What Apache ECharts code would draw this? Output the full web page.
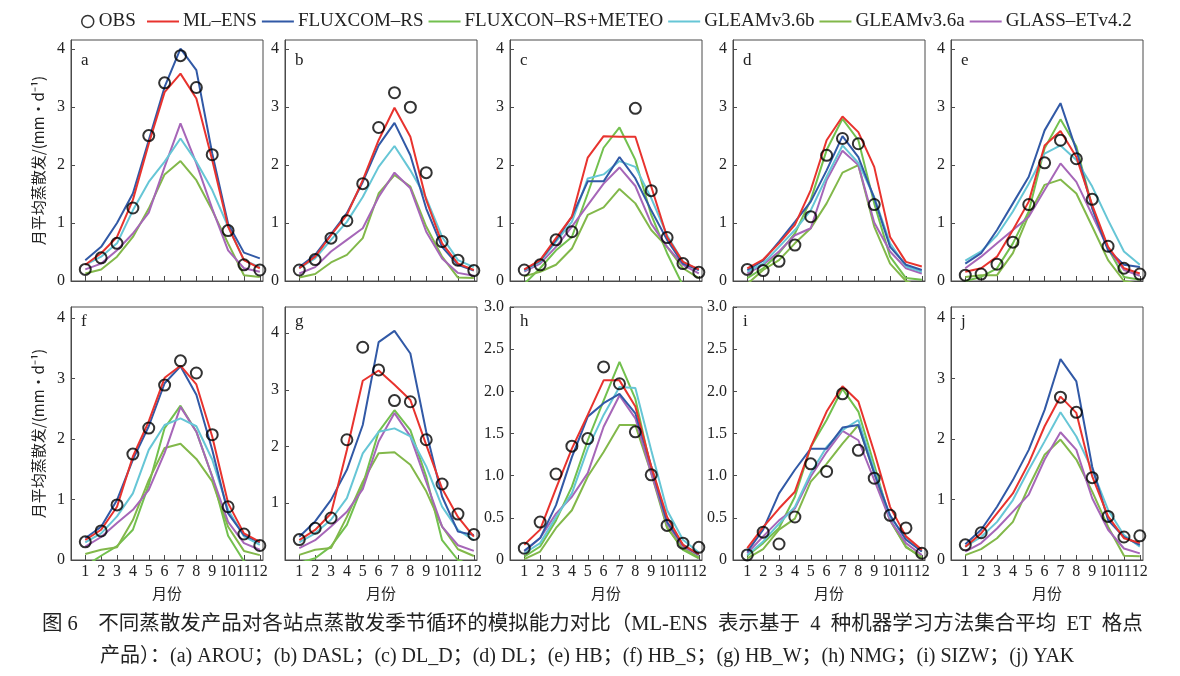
<!DOCTYPE html>
<html><head><meta charset="utf-8">
<script src="https://cdn.jsdelivr.net/npm/echarts@6/dist/echarts.min.js"></script>
<style>html,body{margin:0;padding:0;background:#fff}#c{width:1180px;height:676px}</style>
</head><body><div id="c"></div><script>
// ---------- DATA ----------
const months = [1,2,3,4,5,6,7,8,9,10,11,12];
const panelLetters = ['a','b','c','d','e','f','g','h','i','j'];
const seriesNames = ['OBS','ML–ENS','FLUXCOM–RS','FLUXCON–RS+METEO','GLEAMv3.6b','GLEAMv3.6a','GLASS–ETv4.2'];
const yTickLabels = [[0,1,2,3,4],[0,1,2,3,4],[0,1,2,3,4],[0,1,2,3,4],[0,1,2,3,4],
                     [0,1,2,3,4],[1,2,3,4],[0,0.5,1,1.5,2,2.5,3],[0,0.5,1,1.5,2,2.5,3],[0,1,2,3,4]];

const OBS = [
 [0.20,0.40,0.65,1.26,2.51,3.42,3.89,3.34,2.18,0.87,0.28,0.19],
 [0.19,0.37,0.74,1.04,1.68,2.65,3.25,3.00,1.87,0.68,0.36,0.18],
 [0.19,0.28,0.71,0.85,null,null,null,2.98,1.56,0.75,0.30,0.15],
 [0.20,0.18,0.34,0.62,1.11,2.17,2.46,2.37,1.32,null,null,null],
 [0.10,0.12,0.29,0.67,1.32,2.04,2.43,2.11,1.41,0.60,0.22,0.12],
 [0.30,0.48,0.91,1.75,2.18,2.89,3.29,3.09,2.07,0.88,0.43,0.24],
 [0.36,0.56,0.74,2.12,3.75,3.35,2.81,2.79,2.12,1.34,0.81,0.45],
 [0.14,0.45,1.02,1.35,1.44,2.29,2.09,1.52,1.01,0.41,0.20,0.15],
 [0.06,0.33,0.19,0.51,1.14,1.05,1.97,1.30,0.97,0.53,0.38,0.08],
 [0.25,0.45,null,null,null,null,2.69,2.44,1.36,0.72,0.38,0.40]
];
const ML_ENS = [
 [0.28,0.48,0.76,1.40,2.37,3.26,3.58,3.15,2.09,0.94,0.36,0.22],
 [0.22,0.42,0.79,1.14,1.74,2.43,2.99,2.49,1.40,0.65,0.30,0.19],
 [0.20,0.36,0.74,1.11,2.13,2.50,2.49,2.49,1.63,0.76,0.33,0.20],
 [0.22,0.37,0.65,0.97,1.57,2.43,2.84,2.57,1.97,0.76,0.33,0.25],
 [0.16,0.22,0.42,0.88,1.37,2.34,2.59,2.14,1.31,0.59,0.22,0.13],
 [0.33,0.50,0.88,1.71,2.29,3.01,3.21,2.90,2.04,0.94,0.44,0.30],
 [0.35,0.53,0.82,1.94,3.16,3.34,3.09,2.82,2.03,1.26,0.76,0.41],
 [0.18,0.36,0.85,1.32,1.72,2.13,2.13,1.82,1.11,0.51,0.18,0.07],
 [0.14,0.39,0.61,0.81,1.34,1.76,2.06,1.88,1.28,0.63,0.28,0.12],
 [0.22,0.44,0.77,1.10,1.60,2.21,2.70,2.43,1.38,0.72,0.36,0.28]
];
const FLUXCOM_RS = [
 [0.36,0.59,1.00,1.51,2.43,3.35,4.01,3.64,2.20,0.99,0.49,0.39],
 [0.24,0.45,0.81,1.17,1.71,2.34,2.73,2.17,1.25,0.59,0.28,0.18],
 [0.19,0.35,0.71,1.11,1.72,1.72,2.14,1.77,1.22,0.71,0.30,0.19],
 [0.19,0.35,0.68,1.02,1.37,1.91,2.50,2.14,1.43,0.59,0.28,0.19],
 [0.30,0.48,0.88,1.34,1.80,2.60,3.07,2.26,1.25,0.53,0.28,0.24],
 [0.36,0.55,0.99,1.66,2.21,2.92,3.20,2.73,1.82,0.77,0.41,0.29],
 [0.41,0.68,1.06,1.59,2.38,3.84,4.04,3.64,2.26,1.12,0.50,0.44],
 [0.11,0.26,0.65,1.22,1.70,1.86,1.97,1.74,1.11,0.45,0.18,0.06],
 [0.10,0.36,0.79,1.07,1.32,1.32,1.57,1.60,1.03,0.53,0.24,0.10],
 [0.26,0.50,0.88,1.32,1.82,2.48,3.32,2.95,1.54,0.66,0.38,0.25]
];
const FLUXCON_RS_METEO = [
 null,
 null,
 [-0.05,0.22,0.53,0.76,1.51,2.30,2.65,2.09,1.14,0.48,-0.08,-0.15],
 [0.05,0.22,0.48,0.82,1.40,2.26,2.80,2.43,1.34,0.42,0.05,0.02],
 [0.00,0.07,0.22,0.65,1.20,2.29,2.79,2.32,1.28,0.56,0.07,0.02],
 [-0.10,0.07,0.23,0.50,1.24,2.18,2.55,2.12,1.38,0.40,-0.02,-0.10],
 [-0.05,0.03,0.24,0.62,1.32,2.26,2.64,2.29,1.47,0.35,0.00,-0.10],
 [0.04,0.16,0.47,0.87,1.42,1.89,2.35,1.91,1.07,0.39,0.12,0.02],
 [0.05,0.20,0.38,0.75,1.34,1.66,2.03,1.76,1.13,0.47,0.16,0.02],
 null
];
const GLEAM_36b = [
 [0.28,0.42,0.65,1.22,1.71,2.06,2.46,2.06,1.57,0.94,0.36,0.24],
 [0.22,0.39,0.71,1.02,1.45,1.97,2.33,1.91,1.43,0.76,0.36,0.24],
 [0.18,0.33,0.68,1.02,1.77,1.84,2.07,1.97,1.43,0.79,0.33,0.19],
 [0.16,0.30,0.59,0.88,1.22,1.80,2.34,2.04,1.45,0.65,0.25,0.16],
 [0.35,0.51,0.79,1.20,1.68,2.20,2.34,2.09,1.63,1.05,0.51,0.28],
 [0.29,0.44,0.72,1.10,1.82,2.23,2.34,2.21,1.66,0.83,0.39,0.25],
 [0.31,0.47,0.71,1.09,1.88,2.26,2.32,2.18,1.65,0.94,0.53,0.35],
 [0.08,0.20,0.51,0.79,1.32,1.72,2.05,2.04,1.30,0.59,0.24,0.09],
 [0.06,0.22,0.43,0.63,1.03,1.34,1.54,1.66,1.07,0.51,0.26,0.10],
 [0.22,0.38,0.63,0.99,1.49,1.96,2.44,2.04,1.49,0.83,0.41,0.22]
];
const GLEAM_36a = [
 [0.13,0.20,0.42,0.76,1.25,1.84,2.07,1.74,1.22,0.65,0.10,0.07],
 [0.06,0.12,0.32,0.45,0.74,1.51,1.83,1.63,0.94,0.42,0.06,0.05],
 [0.08,0.16,0.28,0.56,1.14,1.27,1.59,1.34,0.88,0.59,0.22,0.05],
 [-0.05,0.19,0.36,0.65,0.91,1.34,1.87,2.00,0.94,0.30,0.00,-0.10],
 [0.07,0.10,0.10,0.48,1.14,1.66,1.75,1.51,0.94,0.36,0.00,-0.05],
 [0.10,0.17,0.21,0.66,1.32,1.85,1.92,1.67,1.30,0.55,0.15,0.08],
 [0.09,0.18,0.21,0.76,1.38,1.88,1.90,1.68,1.21,0.59,0.19,0.07],
 [0.01,0.10,0.38,0.59,0.99,1.28,1.60,1.60,1.03,0.38,0.14,0.03],
 [0.02,0.13,0.36,0.49,0.93,1.14,1.38,1.60,1.03,0.47,0.15,0.04],
 [0.08,0.18,0.36,0.63,1.21,1.74,1.99,1.66,1.13,0.55,0.07,0.06]
];
const GLASS_ET = [
 [0.20,0.30,0.53,0.82,1.18,1.97,2.72,2.03,1.25,0.53,0.22,0.16],
 [0.13,0.24,0.51,0.71,0.91,1.45,1.87,1.60,0.85,0.39,0.14,0.09],
 [0.16,0.30,0.59,0.94,1.31,1.68,1.96,1.64,0.99,0.59,0.28,0.13],
 [0.13,0.28,0.51,0.79,0.91,1.74,2.25,2.00,1.01,0.51,0.22,0.13],
 [0.22,0.42,0.65,0.88,1.11,1.57,2.03,1.71,1.14,0.56,0.19,0.09],
 [0.22,0.38,0.61,0.83,1.16,1.77,2.53,2.12,1.38,0.63,0.28,0.17],
 [0.21,0.35,0.59,0.85,1.25,2.09,2.59,2.18,1.38,0.59,0.26,0.16],
 [0.10,0.26,0.55,0.75,1.03,1.58,1.95,1.68,1.03,0.43,0.16,0.06],
 [0.08,0.28,0.47,0.61,0.99,1.28,1.53,1.42,0.95,0.47,0.20,0.06],
 [0.14,0.28,0.52,0.80,1.08,1.66,2.11,1.82,1.02,0.50,0.19,0.11]
];
const yMaxes = [4.16,4.16,4.16,4.16,4.16,4.18,4.46,3.0,3.0,4.18];

// ---------- LAYOUT / STYLE ----------
const lefts = [71,285,510,733,951];
const W = 192;
const rows = [{top:40,h:241},{top:307,h:253}];
const SERIF = '"Liberation Serif","DejaVu Serif",serif';
const CJK = '"Noto Sans CJK SC","Liberation Serif",sans-serif';
const CAP = '"Liberation Serif","Noto Sans CJK SC",serif';
const lineStyles = [
  {key:'FLUXCON–RS+METEO', data:FLUXCON_RS_METEO, color:'#72c04e'},
  {key:'GLEAMv3.6a', data:GLEAM_36a, color:'#82b84a'},
  {key:'GLASS–ETv4.2', data:GLASS_ET, color:'#a666b8'},
  {key:'GLEAMv3.6b', data:GLEAM_36b, color:'#66c6d6'},
  {key:'FLUXCOM–RS', data:FLUXCOM_RS, color:'#3159a6'},
  {key:'ML–ENS', data:ML_ENS, color:'#e8332e'}
];

const grids=[], xAxes=[], yAxes=[], series=[], graphics=[];
for (let p=0;p<10;p++){
  const r = p<5?0:1, c = p%5;
  const row = rows[r];
  grids.push({left:lefts[c], top:row.top, width:W, height:row.h, show:true,
    borderColor:'#4a4a4a', borderWidth:1, backgroundColor:'transparent', containLabel:false});
  xAxes.push({gridIndex:p, type:'value', min:0.1, max:12.2,
    axisLine:{show:true,lineStyle:{color:'#4a4a4a',width:1}},
    axisTick:{show:true,inside:true,length:5,customValues:months,lineStyle:{color:'#4a4a4a'}},
    axisLabel:{show:r===1,customValues:months,margin:4,color:'#222',fontFamily:SERIF,fontSize:16},
    splitLine:{show:false},
    name:r===1?'月份':'', nameLocation:'middle', nameGap:26,
    nameTextStyle:{fontFamily:CJK,fontSize:15,color:'#222'}});
  const isDec = (p===7||p===8);
  yAxes.push({gridIndex:p, type:'value', min:0, max:yMaxes[p],
    axisLine:{show:true,lineStyle:{color:'#4a4a4a',width:1}},
    axisTick:{show:true,inside:true,length:4,customValues:isDec?[0,0.5,1,1.5,2,2.5,3]:[0,1,2,3,4],lineStyle:{color:'#4a4a4a'}},
    axisLabel:{customValues:yTickLabels[p],margin:6,color:'#222',fontFamily:SERIF,fontSize:16,
      formatter:v=> isDec ? (v===0?'0':v.toFixed(1)) : String(v)},
    splitLine:{show:false},
    name:(c===0)?'月平均蒸散发/(mm·d⁻¹)':'', nameLocation:'middle', nameRotate:90, nameGap:25,
    nameTextStyle:{fontFamily:CJK,fontSize:15,color:'#222'}});
  lineStyles.forEach(ls=>{
    if(!ls.data[p]) return;
    series.push({name:ls.key, type:'line', xAxisIndex:p, yAxisIndex:p, symbol:'none',
      clip:true, smooth:false, itemStyle:{color:ls.color},
      lineStyle:{color:ls.color,width:2}, data:months.map((m,i)=>[m, ls.data[p][i]])});
  });
  series.push({name:'OBS', type:'scatter', xAxisIndex:p, yAxisIndex:p, symbol:'circle', symbolSize:11, z:5,
    itemStyle:{color:'rgba(0,0,0,0)', borderColor:'#000', borderWidth:2},
    data:months.map((m,i)=>[m, OBS[p][i]]).filter(d=>d[1]!==null)});
  graphics.push({type:'text', left:lefts[c]+10, top:row.top+(r===0?12:6),
    style:{text:panelLetters[p], font:'17px '+SERIF, fill:'#222'}});
}
graphics.push({type:'text', left:42, top:614,
  style:{text:'图 6　不同蒸散发产品对各站点蒸散发季节循环的模拟能力对比（ML-ENS  表示基于  4  种机器学习方法集合平均  ET  格点',
    font:'20.5px '+CAP, fill:'#222'}});
graphics.push({type:'text', left:100, top:647,
  style:{text:'产品）：(a) AROU；(b) DASL；(c) DL_D；(d) DL；(e) HB；(f) HB_S；(g) HB_W；(h) NMG；(i) SIZW；(j) YAK',
    font:'20px '+CAP, fill:'#222'}});

const option = {
  animation:false,
  backgroundColor:'#fff',
  legend:[
    {left:76, top:7, itemWidth:12, itemHeight:12, itemGap:5,
     data:[{name:'OBS', icon:'circle', itemStyle:{color:'rgba(0,0,0,0)',borderColor:'#000',borderWidth:1.5}}],
     textStyle:{fontFamily:SERIF,fontSize:19,color:'#222'}, selectedMode:false},
    {left:142, top:7, itemWidth:32, itemHeight:2, itemGap:5, icon:'rect',
     data:['ML–ENS','FLUXCOM–RS','FLUXCON–RS+METEO','GLEAMv3.6b','GLEAMv3.6a','GLASS–ETv4.2'],
     textStyle:{fontFamily:SERIF,fontSize:19,color:'#222',padding:[0,0,0,-1]}, selectedMode:false}
  ],
  grid:grids, xAxis:xAxes, yAxis:yAxes, series:series, graphic:graphics
};
const chart = echarts.init(document.getElementById('c'), null, {renderer:'canvas'});
chart.setOption(option);
</script></body></html>
